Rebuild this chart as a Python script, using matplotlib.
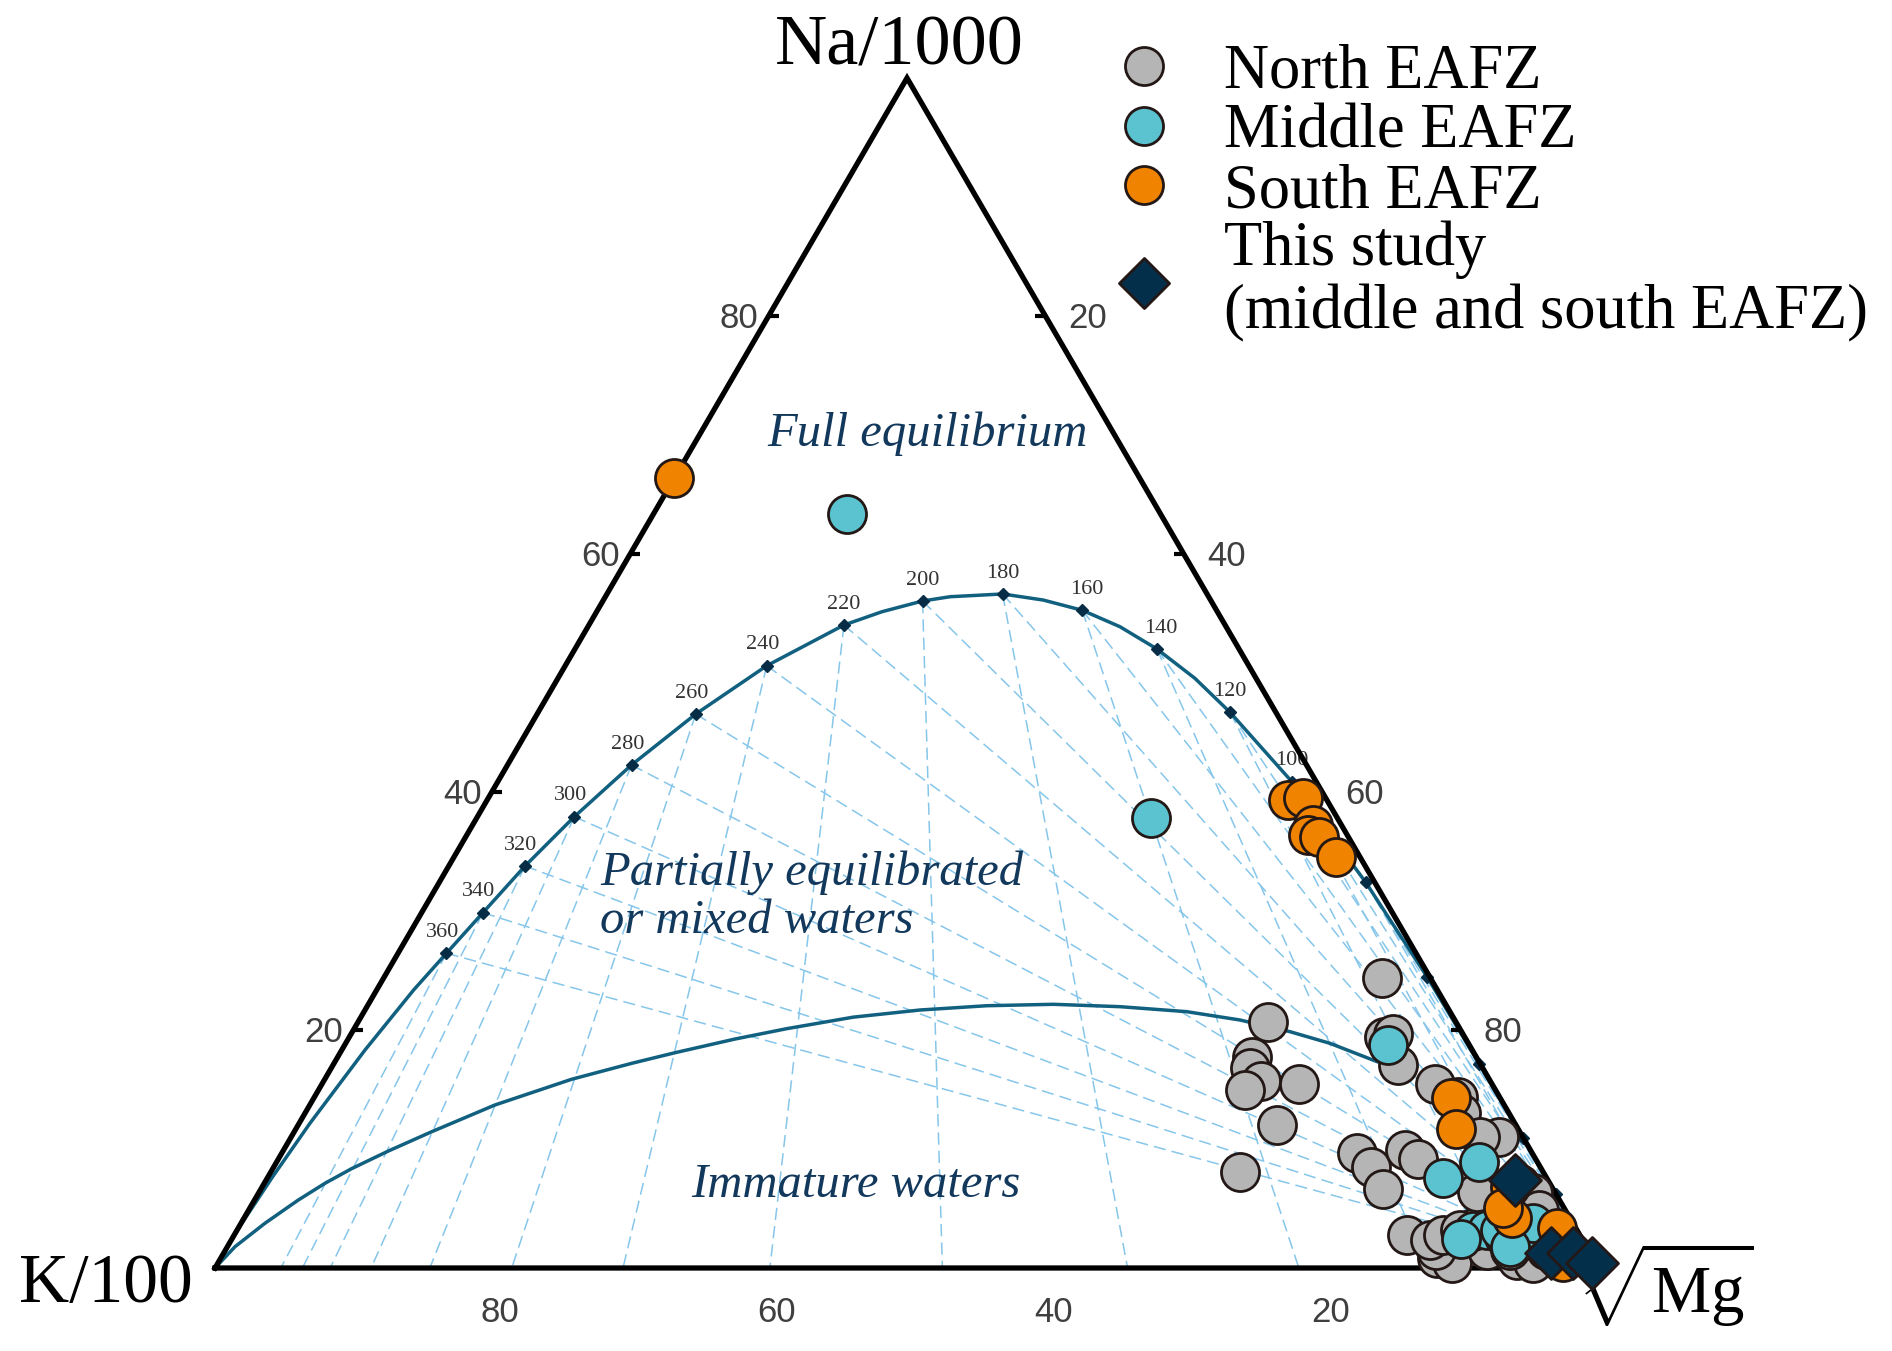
import matplotlib
matplotlib.use("Agg")
import matplotlib.pyplot as plt
import numpy as np

plt.rcParams['font.family'] = ['Liberation Serif', 'DejaVu Serif']
plt.rcParams['mathtext.fontset'] = 'custom'
plt.rcParams['mathtext.rm'] = 'Liberation Serif'
plt.rcParams['mathtext.it'] = 'Liberation Serif:italic'

# compositions in percent of (Na/1000, K/100, sqrt(Mg))
north_na = [24.4, 20.7, 17.7, 16.8, 15.7, 15.0, 15.5, 12.0, 8.1, 19.4, 19.7, 17.1, 15.5,
            14.4, 13.0, 9.7, 8.5, 9.9, 9.2, 11.0, 11.0, 6.6, 2.8, 0.8, 0.4, 1.5, 7.1,
            6.3, 4.9, 3.4, 1.5, 0.7, 0.4, 1.5, 2.4, 2.8, 6.39, 2.35, 2.77, 1.51, 3.19]
north_k = [3.5, 13.6, 16.2, 16.8, 16.6, 18.1, 13.9, 17.3, 21.9, 5.8, 5.0, 6.0, 4.1,
           3.0, 3.5, 12.6, 12.2, 9.1, 8.5, 1.7, 3.1, 12.3, 12.5, 11.3, 10.4, 11.05, 2.15,
           1.65, 1.85, 7.4, 7.35, 5.55, 4.6, 3.05, 1.8, 9.0, 5.62, 11.04, 9.89, 5.68, 8.45]
north_mg = [72.1, 65.7, 66.1, 66.4, 67.7, 66.9, 70.6, 70.7, 70.0, 74.8, 75.3, 76.9, 80.4,
            82.6, 83.5, 77.7, 79.3, 81.0, 82.3, 87.3, 85.9, 81.1, 84.7, 87.9, 89.2, 87.45, 90.75,
            92.05, 93.25, 89.2, 91.15, 93.75, 95.0, 95.45, 95.8, 88.2, 87.99, 86.61, 87.34,
            92.81, 88.36]

middle_na = [63.4, 37.8, 18.7, 8.9, 7.6, 3.1, 3.2, 2.6, 2.1, 3.8, 2.4, 3.19, 1.79]
middle_k = [22.6, 13.5, 5.9, 4.25, 7.5, 7.55, 6.5, 5.6, 4.85, 2.9, 8.8, 5.56, 5.54]
middle_mg = [14.0, 48.7, 75.4, 86.85, 84.9, 89.35, 90.3, 91.8, 93.05, 93.3, 88.8, 91.25, 92.67]

south_na = [66.4, 39.3, 39.5, 37.2, 36.4, 36.2, 34.5, 14.3, 11.7, 6.8, 4.2, 3.4, 0.5, 5.04]
south_k = [33.6, 2.85, 1.65, 2.1, 2.8, 2.1, 1.75, 3.55, 4.45, 3.0, 4.2, 1.3, 2.35, 4.42]
south_mg = [0.0, 57.85, 58.85, 60.7, 60.8, 61.7, 63.75, 82.15, 83.85, 90.2, 91.6, 95.3, 97.15,
            90.54]

study_na = [7.4, 1.3, 1.3, 0.4]
study_k = [2.4, 2.85, 1.25, 0.3]
study_mg = [90.2, 95.85, 97.45, 99.3]

# full equilibrium line; label None = plain vertex, '' = unlabelled marker
eq_label = [None, None, None, None, None, None, '360', '340', '320', '300', '280', '260',
            '240', '220', None, '200', None, '180', None, '160', None, '140', None, '120',
            '100', '', '', '', '', '', None]
eq_na = [0, 3.76, 7.67, 12.16, 18.32, 23.36, 26.45, 29.86, 33.78, 37.92, 42.27, 46.55,
         50.61, 54.03, 55.15, 56.05, 56.41, 56.64, 56.13, 55.27, 53.89, 52.02, 49.55, 46.70,
         40.87, 32.41, 24.43, 17.14, 10.90, 6.22, 0]
eq_k = [100, 96.18, 92.00, 87.06, 80.0, 73.97, 70.05, 65.71, 60.71, 55.08, 48.77, 41.99,
        34.83, 27.54, 24.23, 20.85, 18.68, 14.77, 12.09, 9.70, 7.67, 5.93, 4.42, 3.31,
        1.76, 0.65, 0.19, 0.08, 0.05, 0.02, 0]
eq_mg = [0, 0.06, 0.33, 0.78, 1.68, 2.67, 3.50, 4.43, 5.51, 7.00, 8.96, 11.46,
         14.56, 18.43, 20.62, 23.10, 24.91, 28.59, 31.78, 35.03, 38.44, 42.05, 46.03, 49.99,
         57.37, 66.94, 75.38, 82.78, 89.05, 93.76, 100]

# immature waters boundary
im_na = [0, 1.79, 3.76, 5.71, 7.12, 8.35, 9.83, 11.45, 13.70, 15.86, 17.20, 18.09, 19.24,
         20.11, 21.08, 21.68, 22.04, 22.16, 21.96, 21.54, 20.84, 19.86, 18.88, 17.90, 17.35]
im_k = [100, 97.66, 94.51, 91.13, 88.49, 85.95, 82.56, 78.62, 72.92, 66.30, 61.29, 57.72,
        52.81, 48.64, 43.34, 38.22, 33.22, 28.35, 23.63, 19.02, 15.52, 12.40, 10.00, 8.32,
        7.38]
im_mg = [0, 0.55, 1.73, 3.16, 4.39, 5.70, 7.61, 9.93, 13.38, 17.84, 21.51, 24.19, 27.95,
         31.25, 35.58, 40.10, 44.74, 49.49, 54.41, 59.44, 63.64, 67.74, 71.12, 73.78, 75.27]

left_ticks = [20, 40, 60, 80]     # Na
right_ticks = [20, 40, 60, 80]    # sqrt(Mg)
bottom_ticks = [80, 60, 40, 20]   # K

H = 1190 / 1384  # drawn height / side of the triangle
side = 1384.0


def tern(na, k, mg):
    na, k, mg = np.asarray(na, float), np.asarray(k, float), np.asarray(mg, float)
    s = na + k + mg
    return (mg + na / 2) / s, na / s * H


def px(x, y):
    # picture pixel -> axes data
    return (x - 215) / side, (1268 - y) / side


fig = plt.figure(figsize=(18.92, 13.51), dpi=100)
ax = fig.add_axes([0, 0, 1, 1])
ax.set_xlim(-215 / side, (1892 - 215) / side)
ax.set_ylim((1268 - 1351) / side, 1268 / side)
ax.axis('off')

line_col = '#11607f'
dash_col = '#86c6ea'

# isotherm rays from every marker
for lab, na, k, mg in zip(eq_label, eq_na, eq_k, eq_mg):
    if lab is None:
        continue
    x0, y0 = tern(na, k, mg)
    xb, yb = tern(0, k, mg)
    xm, ym = tern(0, 0, 100)
    ax.plot([x0, xb], [y0, yb], color=dash_col, lw=1.1, dashes=(8, 4), zorder=1)
    ax.plot([x0, xm], [y0, ym], color=dash_col, lw=1.1, dashes=(8, 4), zorder=1)

# curves
ex, ey = tern(eq_na, eq_k, eq_mg)
ax.plot(ex, ey, color=line_col, lw=2.5, zorder=3, solid_joinstyle='round')
ix, iy = tern(im_na, im_k, im_mg)
ax.plot(ix, iy, color=line_col, lw=2.5, zorder=3, solid_joinstyle='round')

for lab, na, k, mg in zip(eq_label, eq_na, eq_k, eq_mg):
    if lab is None:
        continue
    x0, y0 = tern(na, k, mg)
    ax.plot(x0, y0, marker='D', ms=6.5, color='#062d45', zorder=4)
    if lab:
        t = int(lab)
        dx = -3 if t >= 240 else (3 if t in (160, 140) else 0)
        ax.annotate(lab, (x0, y0), xytext=(dx, 15), textcoords='offset points',
                    ha='center', va='center', fontsize=16, color='#333333', zorder=4)

# triangle
tx, ty = tern([0, 0, 100, 0], [100, 0, 0, 100], [0, 100, 0, 0])
ax.plot(tx, ty, color='black', lw=3.8, solid_joinstyle='miter', zorder=5)

tick_font = dict(family=['Liberation Sans', 'DejaVu Sans'], fontsize=25, color='#3f3f3f')
for v in left_ticks:
    x0, y0 = tern(v, 100 - v, 0)
    ax.plot([x0, x0 + 10 / side], [y0, y0], color='black', lw=3, solid_capstyle='butt', zorder=5)
    ax.text(x0 - 10 / side, y0 - 12.5 / side, str(v), ha='right', va='baseline', **tick_font)
for v in right_ticks:
    x0, y0 = tern(100 - v, 0, v)
    ax.plot([x0, x0 - 10 / side], [y0, y0], color='black', lw=3, solid_capstyle='butt', zorder=5)
    ax.text(x0 + 23 / side, y0 - 12.5 / side, str(v), ha='left', va='baseline', **tick_font)
for v in bottom_ticks:
    x0, y0 = tern(0, v, 100 - v)
    ax.text(x0 + 8 / side, y0 - 53.5 / side, str(v), ha='center', va='baseline', **tick_font)

# vertex labels
ax.text(*px(899, 65), 'Na/1000', ha='center', va='baseline', fontsize=52)
ax.text(*px(106, 1302), 'K/100', ha='center', va='baseline', fontsize=50)
ax.text(*px(1665, 1313), r'$\sqrt{\mathrm{Mg}}$', ha='center', va='baseline', fontsize=48)

# field names
reg = dict(fontsize=35, style='italic', color='#12385c')
ax.text(*px(927, 446), 'Full equilibrium', ha='center', va='baseline', **reg)
ax.text(*px(600, 885), 'Partially equilibrated', ha='left', va='baseline', **reg)
ax.text(*px(600, 933), 'or mixed waters', ha='left', va='baseline', **reg)
ax.text(*px(691, 1197), 'Immature waters', ha='left', va='baseline', **reg)

# samples
edge = '#231815'
groups = [
    (north_na, north_k, north_mg, 'o', '#b5b5b5', 750, 'North EAFZ'),
    (middle_na, middle_k, middle_mg, 'o', '#5bc3d0', 750, 'Middle EAFZ'),
    (south_na, south_k, south_mg, 'o', '#f08300', 750, 'South EAFZ'),
    (study_na, study_k, study_mg, 'D', '#042f4a', 700, 'This study\n(middle and south EAFZ)'),
]
for i, (na, k, mg, m, c, s, name) in enumerate(groups):
    x, y = tern(na, k, mg)
    ax.scatter(x, y, marker=m, s=s, c=c, edgecolors=edge, linewidths=2, zorder=6 + i,
               clip_on=False)

# legend, laid out by hand
leg_y = [66, 126, 185, 283]
leg_base = [[87], [147], [207], [265, 328]]
for (na, k, mg, m, c, s, name), my, bases in zip(groups, leg_y, leg_base):
    lx, ly = px(1144, my)
    ax.scatter([lx], [ly], marker=m, s=s * (0.93 if m == 'D' else 1.0), c=c,
               edgecolors=edge, linewidths=2, clip_on=False, zorder=10)
    for line, b in zip(name.split('\n'), bases):
        ax.text(*px(1224, b), line, ha='left', va='baseline', fontsize=45)

fig.savefig('out.png', dpi=100)
